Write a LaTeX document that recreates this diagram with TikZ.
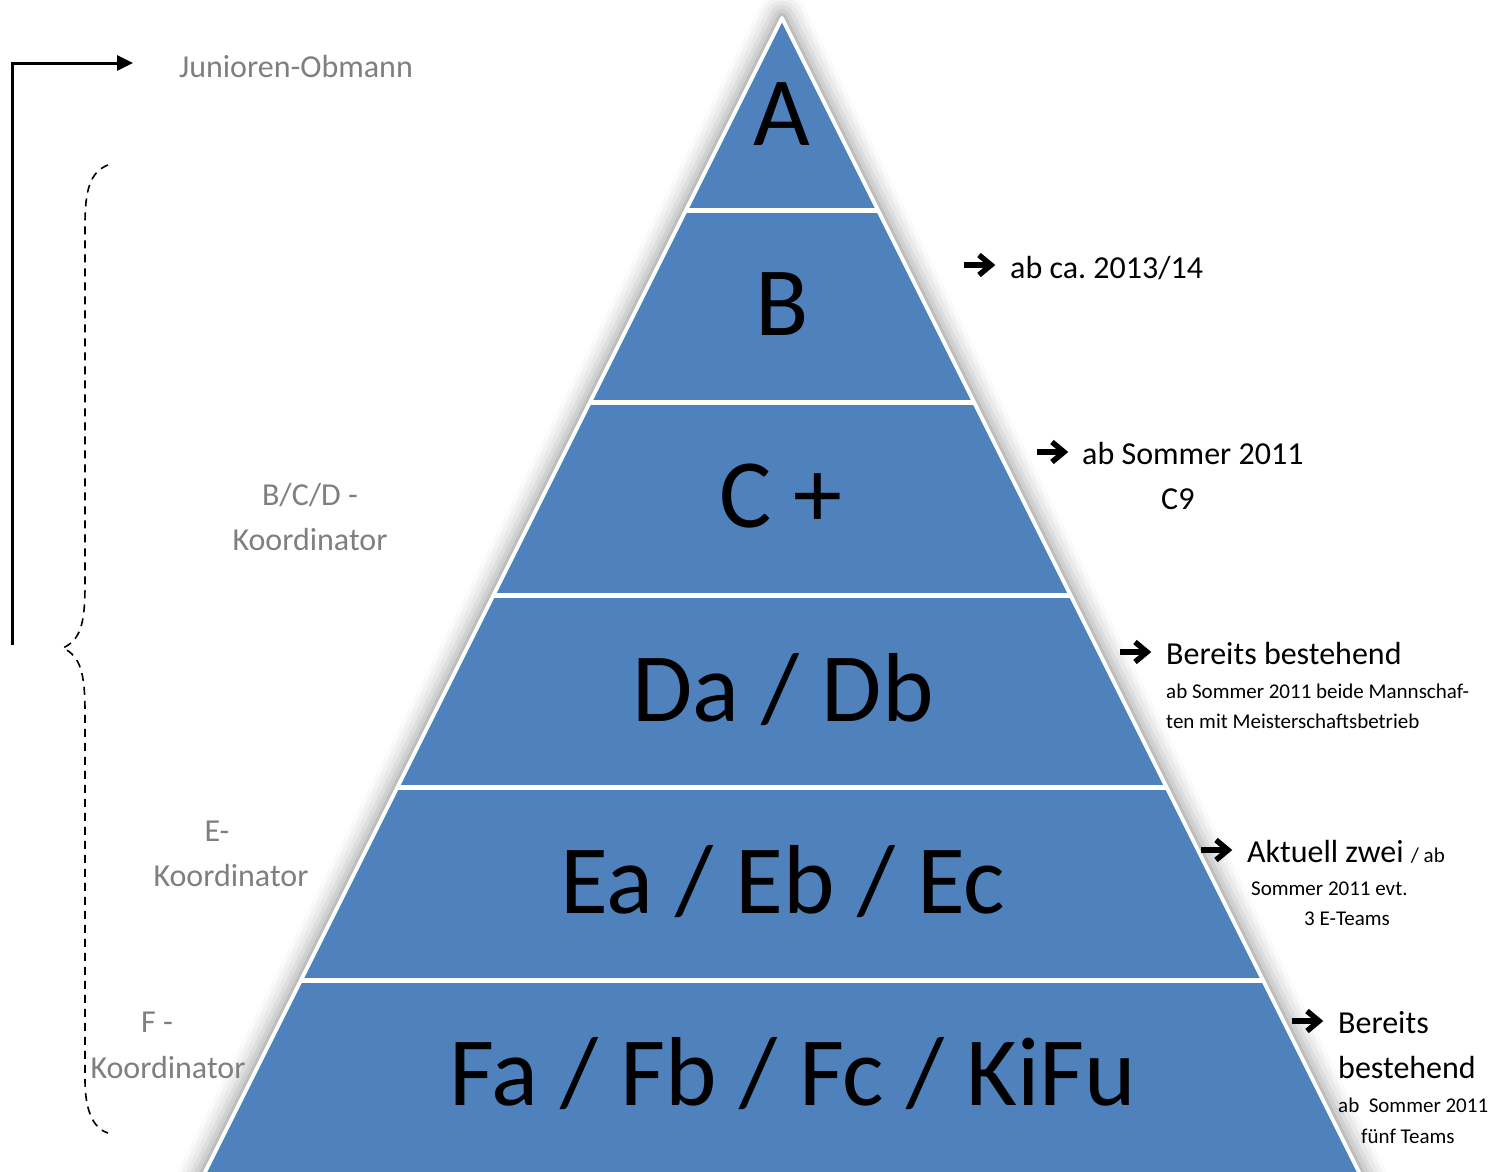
\documentclass[tikz,border=0pt]{standalone}
\usepackage{fontspec}
\setmainfont{Carlito}
\usetikzlibrary{arrows.meta}
\definecolor{pyr}{HTML}{4F81BD}
\definecolor{lbl}{HTML}{7F7F7F}
\frenchspacing
\begin{document}
\begin{tikzpicture}[x=1pt,y=-1pt,
 big/.style={anchor=base, font=\fontsize{98}{100}\selectfont, inner sep=0pt},
 grey/.style={anchor=base, text=lbl, font=\fontsize{32}{36}\selectfont, inner sep=0pt},
 note/.style={anchor=base west, font=\fontsize{32}{36}\selectfont, inner sep=0pt},
 small/.style={anchor=base west, font=\fontsize{21}{24}\selectfont, inner sep=0pt},
 sep/.style={draw=white, line width=5pt},
 heavy/.style={line width=5.5pt},
]
\useasboundingbox (0,0) rectangle (1507,1171);
\clip (0,0) rectangle (1507,1171);
% pyramid corners
\coordinate (apex) at (782,18);
\coordinate (bl) at (201,1180);
\coordinate (br) at (1363,1180);
% shadow
\foreach \w/\o in {50/0.02,42/0.03,34/0.04,26/0.05,18/0.06,10/0.08,5/0.1}{
  \draw[line width=\w pt, opacity=\o, line join=round, shift={(6,7)}] (apex) -- (br) -- (bl) -- cycle;
}
% pyramid
\fill[pyr] (apex) -- (br) -- (bl) -- cycle;
\foreach \k in {0,...,4}{
  \pgfmathsetmacro{\yy}{210+192.5*\k}
  \pgfmathsetmacro{\xl}{782-0.5*(\yy-18)}
  \pgfmathsetmacro{\xr}{782+0.5*(\yy-18)}
  \draw[sep] (\xl,\yy) -- (\xr,\yy);
}
\draw[white, line width=4pt, line join=round] (apex) -- (br) -- (bl) -- cycle;
% level labels
\node[big] (A) at (782,145) {A};
\node[big] (B) at (782,335) {B};
\node[big] (C) at (781,527) {C +};
\node[big] (D) at (783,721) {Da / Db};
\node[big] (E) at (783,913) {Ea / Eb / Ec};
\node[big] (F) at (793,1105) {Fa / Fb / Fc / KiFu};
% left labels
\node[grey] (jo) at (296,77) {Junioren-Obmann};
\node[grey] (bcd1) at (310,505) {B/C/D -};
\node[grey] (bcd2) at (310,550) {Koordinator};
\node[grey] (e1) at (217,841) {E-};
\node[grey] (e2) at (231,886) {Koordinator};
\node[grey] (f1) at (157,1032) {F -};
\node[grey] (f2) at (168,1078) {Koordinator};
% Junioren-Obmann arrow
\coordinate (ja) at (12,645);
\coordinate (jb) at (133,63);
\draw[line width=3pt, -{Triangle[length=16pt,width=15pt]}] (ja) |- (jb);
% dashed brace
\coordinate (brt) at (108,165);
\coordinate (brm) at (63,648);
\coordinate (brb) at (108,1133);
\draw[line width=1.6pt, dash pattern=on 8pt off 6pt]
  (brt) .. controls (90,172) and (85,190) .. (85,225) -- (85,585)
  .. controls (85,625) and (80,640) .. (brm)
  .. controls (80,656) and (85,672) .. (85,712) -- (85,1080)
  .. controls (85,1108) and (92,1128) .. (brb);
% heavy arrow symbols
\foreach \n/\x/\y in {a1/964/265, a2/1037/452, a3/1120/652, a4/1201/850, a5/1292/1021}{
  \coordinate (\n) at (\x,\y);
  \draw[heavy] (\n) -- ++(24,0);
  \draw[heavy, line join=miter, miter limit=4] ([shift={(15,-10)}]\n) -- ([shift={(27,0)}]\n) -- ([shift={(15,10)}]\n);
}
% right notes
\node[note] (n1) at (1010,278) {ab ca. 2013/14};
\node[note] (n2) at (1082,464) {ab Sommer 2011};
\node[note] (n2b) at (1161,509) {C9};
\node[note] (n3) at (1166,664) {Bereits bestehend};
\node[small] (n3b) at (1166,698) {ab Sommer 2011 beide Mannschaf-};
\node[small] (n3c) at (1166,728) {ten mit Meisterschaftsbetrieb};
\node[note] (n4) at (1247,862) {Aktuell zwei \fontsize{21}{24}\selectfont / ab};
\node[small] (n4b) at (1251,895) {Sommer 2011 evt.};
\node[small] (n4c) at (1304,925) {3 E-Teams};
\node[note] (n5) at (1338,1033) {Bereits};
\node[note] (n5b) at (1338,1078) {bestehend};
\node[small] (n5c) at (1338,1112) {ab\ \ Sommer 2011};
\node[small] (n5d) at (1361,1143) {fünf Teams};
\end{tikzpicture}
\end{document}
